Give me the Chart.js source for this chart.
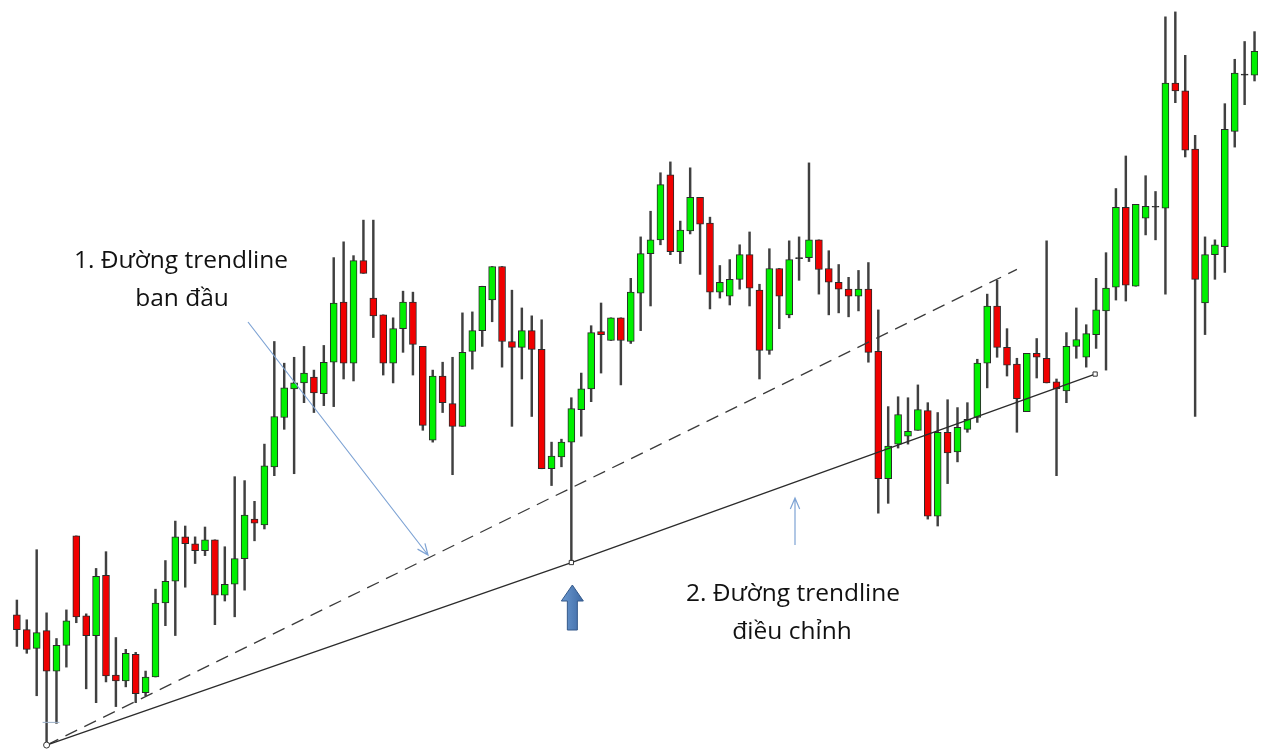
<!DOCTYPE html>
<html lang="vi">

<head>
  <meta charset="UTF-8">
  <title>Trendline</title>
  <script src="https://cdn.jsdelivr.net/npm/chart.js"></script>
  <style>
    html, body { margin: 0; padding: 0; background: #fff; }
    #wrap { width: 1263px; height: 756px; position: relative; }
  </style>
</head>

<body>
  <div id="wrap"><canvas id="myChart"></canvas></div>

  <script>
    // OHLC, one entry per candle (price units)
    const opens = [138,123,104,122,81,107,218,137,117,178, 77,71,98,59,75,150,172,217,210,203,
      214,158,169,195,235,229,288,338,367,373, 379,362,394,455,393,497,459,442,393,428,
      455,410,315,380,352,329,405,426,457,491, 415,409,426,407,286,298,313,346,367,425,
      416,439,415,464,504,518,584,506,527,561, 535,465,461,478,503,467,406,489,442,499,
      500,518,489,475,468,461,468,405,276,311, 319,325,345,238,323,303,326,338,393,451,
      409,392,344,403,398,374,365,410,399,422, 446,470,551,471,540,551,550,677,669,610,
      454,503,511,628,685,685];
    const highs = [153,133,204,140,114,143,218,139,185,202, 115,103,100,81,164,193,233,228,217,227,
      214,207,278,274,253,311,415,393,399,410, 386,411,500,516,502,538,538,442,439,466,
      465,410,386,394,399,444,445,471,491,491, 467,449,441,437,313,316,358,383,431,454,
      439,439,479,521,547,586,597,537,591,561, 541,492,498,513,526,473,509,489,517,521,
      596,518,507,493,480,487,495,447,349,359, 358,371,353,343,356,348,353,397,463,477,
      428,398,403,418,517,377,424,449,432,479, 505,570,603,554,583,567,744,749,705,624,
      521,518,656,701,719,729];
    const lows = [106,99,56,6,28,85,130,63,49,70, 45,65,49,56,75,127,117,166,190,198,
      128,152,136,163,213,225,279,326,281,353, 343,350,349,377,375,484,419,381,373,404,
      381,325,313,343,280,329,387,410,435,389, 329,377,339,286,269,288,191,319,354,383,
      416,371,413,426,451,513,503,494,524,483, 448,459,452,468,451,377,402,428,439,477,
      496,463,442,444,440,446,394,241,251,307, 311,325,235,228,271,293,323,333,368,399,
      380,323,344,378,373,279,353,398,389,408, 386,457,456,471,523,518,463,657,602,339,
      422,478,485,612,655,679];
    const closes = [123,103,120,81,107,132,136,117,177,76, 71,99,58,75,150,172,217,210,203,214,
      158,169,195,239,231,289,339,368,373,383, 363,394,454,393,497,484,441,393,428,455,
      412,330,380,353,329,404,426,471,491,415, 409,426,407,286,299,313,347,367,424,422,
      439,416,465,504,518,574,506,528,561,534, 465,475,478,503,469,406,489,461,498,500,
      518,488,475,468,461,468,404,276,309,341, 324,346,238,323,302,328,336,393,451,409,
      391,357,403,399,373,367,410,417,423,447, 469,551,472,554,552,552,677,669,609,478,
      503,513,630,687,686,709];

    // trendlines: [candle index, price]
    const adjustedLine = [[3, 6], [56, 191], [108.9, 382]];
    const initialLine = [[3, 6], [101, 488]];
    const lowMark = [[2.6, 29], [4.3, 29]];

    const GREEN = '#00f000';
    const RED = '#f00000';

    const bodyColor = (i) => {
      if (Math.abs(closes[i] - opens[i]) <= 1.5) return '#222';
      return closes[i] >= opens[i] ? GREEN : RED;
    };

    const toXY = (arr) => arr.map(p => ({ x: p[0], y: p[1] }));

    // drawing of texts and arrows on top of the candles
    const notesPlugin = {
      id: 'notes',
      afterDatasetsDraw(chart) {
        const c = chart.ctx;
        c.save();

        c.fillStyle = '#111';
        c.font = '24.5px "Open Sans", sans-serif';
        c.textAlign = 'center';
        c.textBaseline = 'middle';
        c.fillText('1. Đường trendline', 181, 261);
        c.fillText('ban đầu', 182, 299);
        c.fillText('2. Đường trendline', 793, 594);
        c.fillText('điều chỉnh', 792, 632);

        // thin pointer arrows
        const pointer = (x1, y1, x2, y2) => {
          c.strokeStyle = '#7ea3d4';
          c.lineWidth = 1.2;
          c.beginPath();
          c.moveTo(x1, y1);
          c.lineTo(x2, y2);
          const a = Math.atan2(y2 - y1, x2 - x1);
          c.moveTo(x2 - 12 * Math.cos(a - 0.4), y2 - 12 * Math.sin(a - 0.4));
          c.lineTo(x2, y2);
          c.lineTo(x2 - 12 * Math.cos(a + 0.4), y2 - 12 * Math.sin(a + 0.4));
          c.stroke();
        };
        pointer(248, 322, 428, 555);
        pointer(795, 545, 795, 498);

        // big blue arrow under the pivot candle
        const ax = chart.scales.x.getPixelForValue(56) + 1;
        const g = c.createLinearGradient(ax - 11, 0, ax + 11, 0);
        g.addColorStop(0, '#6a98d0');
        g.addColorStop(1, '#3e6aa4');
        c.fillStyle = g;
        c.strokeStyle = '#34598a';
        c.lineWidth = 1;
        c.beginPath();
        c.moveTo(ax, 585);
        c.lineTo(ax + 11, 601);
        c.lineTo(ax + 5, 601);
        c.lineTo(ax + 5, 630);
        c.lineTo(ax - 5, 630);
        c.lineTo(ax - 5, 601);
        c.lineTo(ax - 11, 601);
        c.closePath();
        c.fill();
        c.stroke();

        c.restore();
      }
    };

    const ctx = document.getElementById('myChart').getContext('2d');

    new Chart(ctx, {
      type: 'bar',
      data: {
        datasets: [
          {
            type: 'line',
            label: 'Trendline điều chỉnh',
            data: toXY(adjustedLine),
            borderColor: '#2b2b2b',
            borderWidth: 1.3,
            pointStyle: ['circle', 'rect', 'rect'],
            pointRadius: 3,
            pointBackgroundColor: '#fff',
            pointBorderColor: '#333',
            pointBorderWidth: 1,
            order: 0
          },
          {
            type: 'line',
            label: 'Trendline ban đầu',
            data: toXY(initialLine),
            borderColor: '#3a3a3a',
            borderWidth: 1.3,
            borderDash: [13, 8],
            pointRadius: 0,
            order: 0
          },
          {
            type: 'line',
            label: 'low',
            data: toXY(lowMark),
            borderColor: '#9bb0c8',
            borderWidth: 1,
            pointRadius: 0,
            order: 0
          },
          {
            label: 'Thân nến',
            data: opens.map((o, i) => ({ x: i, y: [o, closes[i]] })),
            backgroundColor: opens.map((o, i) => bodyColor(i)),
            borderColor: '#2a2a2a',
            borderWidth: 1,
            borderSkipped: false,
            barThickness: 7,
            grouped: false,
            order: 1
          },
          {
            label: 'Bóng nến',
            data: opens.map((o, i) => ({ x: i, y: [lows[i], highs[i]] })),
            backgroundColor: '#404040',
            borderWidth: 0,
            barThickness: 1.8,
            grouped: false,
            order: 2
          }
        ]
      },
      options: {
        animation: false,
        responsive: true,
        maintainAspectRatio: false,
        layout: { padding: 0 },
        scales: {
          x: {
            type: 'linear',
            offset: false,
            min: -1.2,
            max: 125.35,
            display: false
          },
          y: {
            min: 0,
            max: 756,
            display: false
          }
        },
        plugins: {
          legend: { display: false },
          tooltip: { enabled: false }
        }
      },
      plugins: [notesPlugin]
    });
  </script>
</body>

</html>
